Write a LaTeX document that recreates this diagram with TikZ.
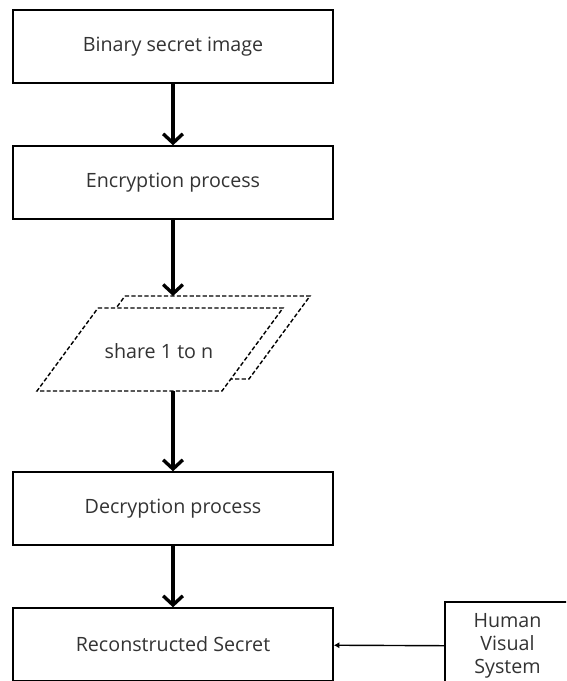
\documentclass[tikz,border=0pt]{standalone}
\usepackage{fontspec}
\setmainfont{Open Sans}
\usetikzlibrary{arrows.meta, calc}

\definecolor{textgray}{HTML}{333333}

\tikzset{
    block/.style={draw, line width=1pt, minimum width=8cm, minimum height=1.825cm,
        text=textgray, font=\fontsize{14}{16.4}\selectfont},
    sharebox/.style={draw, line width=1pt, dash pattern=on 3pt off 1.6pt, fill=white},
    flow/.style={-{Straight Barb[length=6.5pt, width=14pt]}, line width=2.4pt},
    feed/.style={-{Latex[length=4pt, width=4.5pt]}, line width=1pt},
}

\begin{document}
\begin{tikzpicture}[x=0.025cm, y=-0.025cm]
    \useasboundingbox (0,0) rectangle (566,681);
    \clip (0,0) rectangle (566,681);
    \node[block] (bin) at (173,46.5) {Binary secret image};
    \node[block] (enc) at (173,182.5) {Encryption process};
    % stacked shares
    \coordinate (shareback) at (187,337.5);
    \coordinate (sharefront) at (160,349.5);
    \coordinate (sharetop) at (173,296);
    \coordinate (sharebot) at (173,391);
    \draw[sharebox] ($(shareback)+(-62,-41.5)$) -- ++(185,0) -- ++(-61,83) -- ++(-185,0) -- cycle;
    \draw[sharebox] ($(sharefront)+(-62,-41.5)$) -- ++(185,0) -- ++(-61,83) -- ++(-185,0) -- cycle;
    \node[text=textgray, font=\fontsize{14}{16.4}\selectfont] (share) at (159,351) {share 1 to n};
    \node[block] (dec) at (173,508.5) {Decryption process};
    \node[block] (rec) at (173,644.5) {Reconstructed Secret};
    \node[block, minimum width=3.125cm, minimum height=2.2cm, align=center] (hvs) at (507.5,646)
        {Human\\Visual\\System};
    \draw[flow] (bin) -- (enc);
    \draw[flow] (enc) -- (sharetop);
    \draw[flow] (sharebot) -- (dec);
    \draw[flow] (dec) -- (rec);
    \draw[feed] (hvs) -- (rec);
\end{tikzpicture}
\end{document}
